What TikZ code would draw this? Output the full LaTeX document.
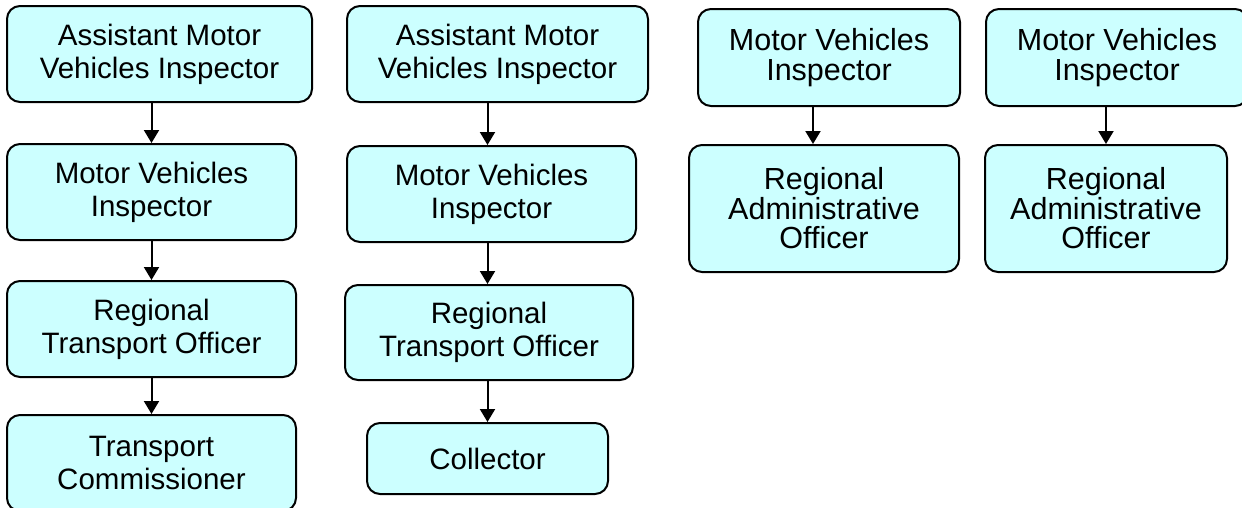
\documentclass[tikz,border=0pt]{standalone}
\usepackage{fontspec}
\setmainfont{Liberation Sans}
\usetikzlibrary{arrows.meta}
\definecolor{boxfill}{HTML}{CCFFFF}
\tikzset{
  box/.style={draw=black, line width=2pt, fill=boxfill, rounded corners=13pt,
    align=center, inner sep=0pt, font=\fontsize{29.5}{33}\selectfont},
  boxb/.style={box, font=\fontsize{30.5}{29.5}\selectfont},
  link/.style={line width=2pt, -{Triangle[width=15pt,length=13pt]}}
}
\begin{document}
\begin{tikzpicture}[x=1pt,y=-1pt]
\useasboundingbox (0,0) rectangle (1242,507);
\clip (0,0) rectangle (1242,507);
% column 1
\node[box, minimum width=305pt, minimum height=96pt] (a1) at (159.5,54) {Assistant Motor\\Vehicles Inspector};
\node[box, minimum width=289pt, minimum height=96pt] (a2) at (151.5,192) {Motor Vehicles\\Inspector};
\node[box, minimum width=289pt, minimum height=96pt] (a3) at (151.5,329) {Regional\\Transport Officer};
\node[box, minimum width=289pt, minimum height=96pt] (a4) at (151.5,463) {Transport\\Commissioner};
\draw[link] (a2.north |- a1.south) -- (a2.north);
\draw[link] (a2.south) -- (a3.north);
\draw[link] (a3.south) -- (a4.north);
% column 2
\node[box, minimum width=301pt, minimum height=96pt] (b1) at (497.5,54) {Assistant Motor\\Vehicles Inspector};
\node[box, minimum width=289pt, minimum height=96pt] (b2) at (491.5,194) {Motor Vehicles\\Inspector};
\node[box, minimum width=288pt, minimum height=95pt] (b3) at (489,332.5) {Regional\\Transport Officer};
\node[box, minimum width=241pt, minimum height=71pt] (b4) at (487.5,458.5) {Collector};
\draw[link] (b4.north |- b1.south) -- (b4.north |- b2.north);
\draw[link] (b4.north |- b2.south) -- (b4.north |- b3.north);
\draw[link] (b4.north |- b3.south) -- (b4.north);
% column 3
\node[boxb, minimum width=262pt, minimum height=97pt] (c1) at (829,57.5) {Motor Vehicles\\Inspector};
\node[boxb, minimum width=270pt, minimum height=127pt] (c2) at (824,208.5) {Regional\\Administrative\\Officer};
\draw[link] ([xshift=-16pt]c1.south) -- ([xshift=-16pt]c1.south |- c2.north);
% column 4
\node[boxb, minimum width=262pt, minimum height=97pt] (d1) at (1117,57.5) {Motor Vehicles\\Inspector};
\node[boxb, minimum width=242pt, minimum height=127pt] (d2) at (1106,208.5) {Regional\\Administrative\\Officer};
\draw[link] (d2.north |- d1.south) -- (d2.north);
\end{tikzpicture}
\end{document}
